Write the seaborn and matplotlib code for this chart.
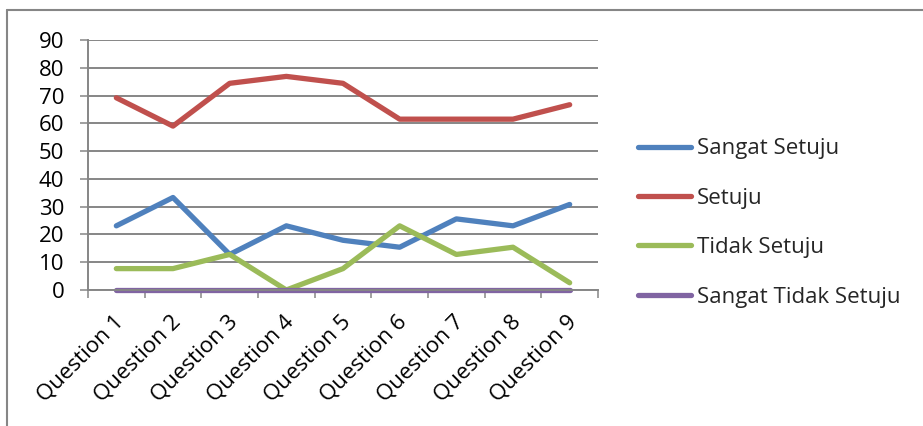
import matplotlib
matplotlib.use("Agg")
import matplotlib.pyplot as plt
import matplotlib.transforms as mtransforms
from matplotlib.lines import Line2D
import seaborn as sns
import pandas as pd
import numpy as np

questions = [f"Question {i}" for i in range(1, 10)]
series_names = ["Sangat Setuju", "Setuju", "Tidak Setuju", "Sangat Tidak Setuju"]
sangat_setuju = [23.1, 33.3, 12.8, 23.1, 17.9, 15.4, 25.6, 23.1, 30.8]
setuju = [69.2, 59.0, 74.4, 76.9, 74.4, 61.5, 61.5, 61.5, 66.7]
tidak_setuju = [7.7, 7.7, 12.8, 0.0, 7.7, 23.1, 12.8, 15.4, 2.6]
sangat_tidak_setuju = [0, 0, 0, 0, 0, 0, 0, 0, 0]
y_ticks = list(range(0, 91, 10))

colors = ["#4F81BD", "#C0504D", "#9BBB59", "#8064A2"]

rows = []
for name, vals in zip(series_names, [sangat_setuju, setuju, tidak_setuju, sangat_tidak_setuju]):
    for q, v in zip(questions, vals):
        rows.append({"Question": q, "Persen": v, "Kategori": name})
df = pd.DataFrame(rows)

sns.set_theme(style="white")
plt.rcParams["font.family"] = ["Open Sans", "DejaVu Sans"]

fig = plt.figure(figsize=(9.23, 4.26), dpi=100)
ax = fig.add_axes([88 / 923, 1 - 290 / 426, 510 / 923, 250 / 426])

sns.lineplot(data=df, x="Question", y="Persen", hue="Kategori", palette=colors,
             hue_order=series_names, sort=False, linewidth=3.8, ax=ax, legend=False)
for ln in ax.get_lines():
    ln.set_solid_capstyle("round")
    ln.set_solid_joinstyle("round")
    ln.set_clip_on(False)

ax.set_xlim(-0.5, 8.5)
ax.set_ylim(0, 90)
ax.set_yticks(y_ticks)
ax.yaxis.grid(True, color="#868686", linewidth=1.4)
ax.set_axisbelow(True)
ax.set_xlabel("")
ax.set_ylabel("")

for side in ["top", "right"]:
    ax.spines[side].set_visible(False)
ax.spines["left"].set_color("#868686")
ax.spines["left"].set_linewidth(1.4)
ax.spines["bottom"].set_color("#868686")
ax.spines["bottom"].set_linewidth(1.4)

ax.tick_params(axis="y", which="major", left=True, length=6, width=1.1, color="#868686",
               pad=11, labelsize=16, labelcolor="black")
ax.set_xticks(np.arange(9))
ax.set_xticks(np.arange(-0.5, 9, 1.0), minor=True)
ax.tick_params(axis="x", which="major", length=0, pad=10, labelsize=16, labelcolor="black")
ax.tick_params(axis="x", which="minor", bottom=True, length=6, width=1.1, color="#868686")
ax.set_xticklabels(questions, rotation=45, ha="right", va="top", rotation_mode="anchor")
shift = mtransforms.ScaledTranslation(-3 / 100, -7 / 100, fig.dpi_scale_trans)
for lbl in ax.get_xticklabels():
    lbl.set_transform(lbl.get_transform() + shift)

handles = [Line2D([0], [0], color=c, linewidth=3.8, solid_capstyle="round") for c in colors]
fig.legend(handles, series_names, loc="center left", bbox_to_anchor=(638 / 923, 1 - 223 / 426),
           frameon=False, fontsize=16, handlelength=2.4, handletextpad=0.25, labelspacing=1.28,
           borderpad=0, borderaxespad=0)

# outer chart frame (top and left edges)
fig.add_artist(Line2D([7 / 923, 1.0], [1 - 10 / 426, 1 - 10 / 426], color="#868686", linewidth=1.5))
fig.add_artist(Line2D([7 / 923, 7 / 923], [0, 1 - 10 / 426], color="#868686", linewidth=1.5))

fig.savefig("out.png", dpi=100)
